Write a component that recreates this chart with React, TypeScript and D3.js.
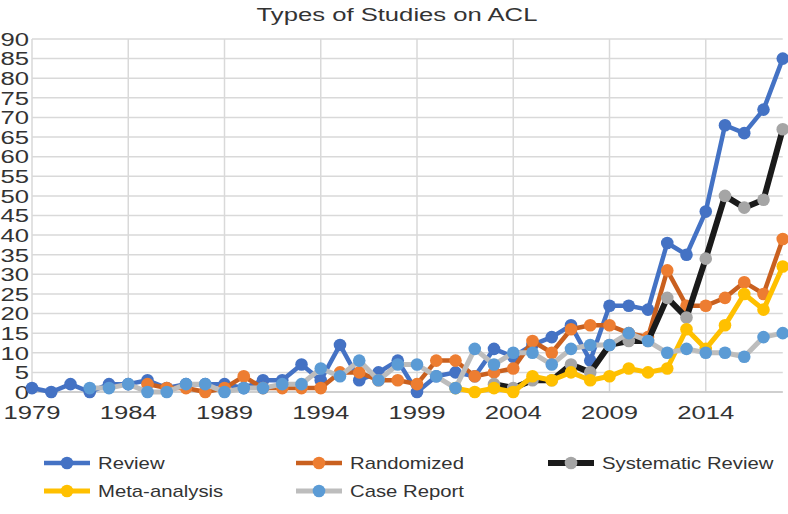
import React from "react";
import * as d3 from "d3";

const years = [1979,1980,1981,1982,1983,1984,1985,1986,1987,1988,1989,1990,1991,1992,1993,1994,1995,1996,1997,1998,1999,2000,2001,2002,2003,2004,2005,2006,2007,2008,2009,2010,2011,2012,2013,2014,2015,2016,2017,2018];
const xTickLabels = [1979,1984,1989,1994,1999,2004,2009,2014];
const yTicks = [0,5,10,15,20,25,30,35,40,45,50,55,60,65,70,75,80,85,90];

const review = [1,0,2,0,2,2,3,1,2,2,2,1,3,3,7,3,12,3,5,8,0,4,5,4,11,9,12,14,17,8,22,22,21,38,35,46,68,66,72,85];
const randomized = [null,null,null,null,null,null,2,1,1,0,1,4,1,1,1,1,5,5,3,3,2,8,8,4,5,6,13,10,16,17,17,15,14,31,22,22,24,28,25,39];
const systematic = [null,null,null,null,null,null,null,null,null,null,null,null,null,null,null,null,null,null,null,null,null,null,null,null,2,1,3,3,7,5,12,13,13,24,19,34,50,47,49,67];
const meta = [null,null,null,null,null,null,null,null,null,null,null,null,null,null,null,null,null,null,null,null,null,null,1,0,1,0,4,3,5,3,4,6,5,6,16,11,17,25,21,32];
const caseReport = [null,null,null,1,1,2,0,0,2,2,0,1,1,2,2,6,4,8,3,7,7,4,1,11,7,10,10,7,11,12,12,15,13,10,11,10,10,9,14,15];

const seriesNames = ["Review","Randomized","Systematic Review","Meta-analysis","Case Report"];
const seriesData = [review, randomized, systematic, meta, caseReport];
const lineColors = ["#4472C4","#C9601F","#1A1A1A","#FFC000","#BDBDBD"];
const markerColors = ["#4472C4","#ED7D31","#A5A5A5","#FFC000","#5B9BD5"];
const lineWidths = [4.5,4.5,6,5,5];

const W = 788, H = 514;
const FONT = "Liberation Sans, Arial, sans-serif";
const SX = 1.35;

export default function App() {
  const x = d3.scaleLinear().domain([1979, 2018]).range([32, 782.75]);
  const y = d3.scaleLinear().domain([0, 90]).range([392, 39]);
  const vGrid = [1979,1984,1989,1994,1999,2004,2009,2014];

  const line = d3.line<number | null>()
    .defined((d) => d !== null)
    .x((_, i) => x(years[i]))
    .y((d) => y(d as number));

  const legendCols = [44, 296, 548];
  const legendRows = [463, 491];

  return (
    <svg width={W} height={H} style={{ position: "absolute", left: 0, top: 0, background: "#fff" }}>
      <rect width={W} height={H} fill="#fff" />
      <g transform={`translate(397,21) scale(${SX},1)`}>
        <text textAnchor="middle" fontFamily={FONT} fontSize={19} fill="#333">Types of Studies on ACL</text>
      </g>
      {yTicks.map((t) => (
        <line key={"h" + t} x1={32} x2={782.75} y1={y(t)} y2={y(t)} stroke="#D9D9D9" strokeWidth={1.5} />
      ))}
      {vGrid.map((t) => (
        <line key={"v" + t} x1={x(t)} x2={x(t)} y1={39} y2={392} stroke="#D9D9D9" strokeWidth={1.5} />
      ))}
      <line x1={32} x2={782.75} y1={392} y2={392} stroke="#C8C8C8" strokeWidth={1.5} />
      {yTicks.map((t) => (
        <g key={"yl" + t} transform={`translate(29,${y(t) + 6.8}) scale(${SX},1)`}>
          <text textAnchor="end" fontFamily={FONT} fontSize={19} fill="#333">{t}</text>
        </g>
      ))}
      {xTickLabels.map((t) => (
        <g key={"xl" + t} transform={`translate(${x(t)},419) scale(${SX},1)`}>
          <text textAnchor="middle" fontFamily={FONT} fontSize={19} fill="#333">{t}</text>
        </g>
      ))}
      {seriesData.map((s, si) => (
        <g key={"s" + si}>
          <path d={line(s) || ""} fill="none" stroke={lineColors[si]} strokeWidth={lineWidths[si]} strokeLinejoin="round" />
          {s.map((v, i) =>
            v === null ? null : (
              <circle key={i} cx={x(years[i])} cy={y(v)} r={6.3} fill={markerColors[si]} />
            )
          )}
        </g>
      ))}
      {seriesNames.map((name, i) => {
        const cx = legendCols[i % 3];
        const cy = legendRows[Math.floor(i / 3)];
        return (
          <g key={"lg" + i}>
            <line x1={cx} x2={cx + 46} y1={cy} y2={cy} stroke={lineColors[i]} strokeWidth={lineWidths[i]} />
            <circle cx={cx + 23} cy={cy} r={6.3} fill={markerColors[i]} />
            <g transform={`translate(${cx + 54},${cy + 6}) scale(1.27,1)`}>
              <text fontFamily={FONT} fontSize={16} fill="#333">{name}</text>
            </g>
          </g>
        );
      })}
    </svg>
  );
}
